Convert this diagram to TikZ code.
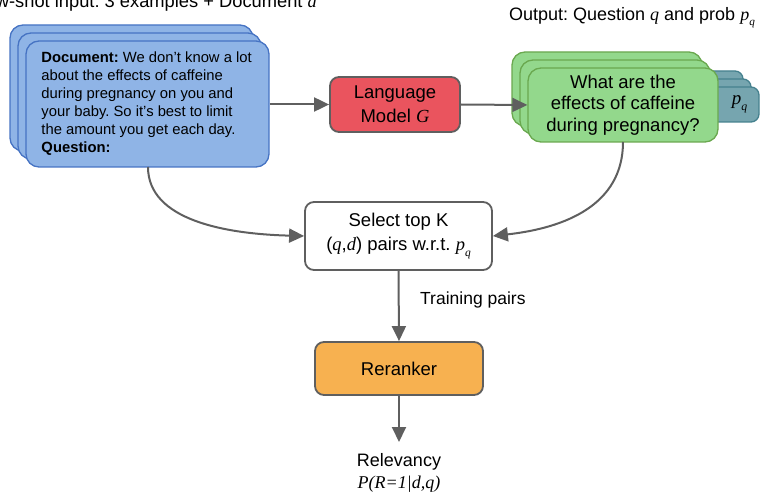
\documentclass[tikz,border=0pt]{standalone}
\usepackage{fontspec}
\setmainfont{Liberation Sans}
\newfontfamily\tms{Liberation Serif}
\usetikzlibrary{arrows.meta}
\frenchspacing
\newcommand{\mv}[1]{{\tms\itshape #1}}
\newcommand{\pq}{\mv{p}\raisebox{-0.55ex}{\scalebox{0.62}{\mv{q}}}}
\definecolor{bluefill}{RGB}{143,180,230}
\definecolor{blueline}{RGB}{70,115,195}
\definecolor{greenfill}{RGB}{147,216,140}
\definecolor{greenline}{RGB}{106,168,79}
\definecolor{tealfill}{RGB}{118,165,175}
\definecolor{tealline}{RGB}{69,129,142}
\definecolor{redfill}{RGB}{234,84,94}
\definecolor{orangefill}{RGB}{247,177,80}
\definecolor{edgegrey}{RGB}{95,95,95}
\tikzset{
  card/.style={draw, line width=1.3pt, rounded corners=13pt, inner sep=0pt},
  bluecard/.style={card, fill=bluefill, draw=blueline, minimum width=243pt, minimum height=126pt},
  greencard/.style={card, fill=greenfill, draw=greenline, minimum width=190pt, minimum height=74pt},
  tealcard/.style={card, fill=tealfill, draw=tealline, rounded corners=8pt, minimum width=53pt, minimum height=35pt},
  procbox/.style={draw=edgegrey, line width=1.8pt, rounded corners=9pt, inner sep=0pt, align=center, font=\fontsize{18.5}{24}\selectfont},
  flow/.style={draw=edgegrey, line width=2pt, -{Triangle[length=15pt,width=14pt]}},
  label/.style={inner sep=0pt, font=\fontsize{18}{22}\selectfont}
}
\begin{document}
\begin{tikzpicture}[x=1pt,y=-1pt]
\useasboundingbox (0,0) rectangle (761,497);

% input documents (stacked)
\node[label, anchor=base east, font=\fontsize{18.3}{22}\selectfont] (inlabel) at (317,7.5) {Few-shot input: 3 examples + Document \mv{d}};
\node[bluecard] (blueback) at (131.5,88) {};
\node[bluecard] (bluemid) at (139.5,96) {};
\node[bluecard, align=left, font=\fontsize{14.8}{18}\selectfont] (doc) at (147.5,104) {\parbox{212pt}{%
\textbf{Document:} We don't know a lot\\
about the effects of caffeine\\
during pregnancy on you and\\
your baby. So it's best to limit\\
the amount you get each day.\\
\textbf{Question:}}};

% language model
\node[procbox, fill=redfill, minimum width=130pt, minimum height=55pt] (lm) at (395,104.5) {Language\\Model \mv{G}};

% generated questions and their probabilities
\node[label] (outlabel) at (632,18) {Output: Question \mv{q} and prob \pq};
\node[tealcard] (pback) at (716.5,88.5) {};
\node[tealcard] (pmid) at (724.5,96.5) {};
\node[tealcard, font=\fontsize{19}{22}\selectfont] (prob) at (732.5,104.5) {\hspace*{14pt}\pq};
\node[greencard] (qback) at (607,89) {};
\node[greencard] (qmid) at (615,97) {};
\node[greencard, align=center, font=\fontsize{18.5}{21.5}\selectfont] (ques) at (623,105) {What are the\\effects of caffeine\\during pregnancy?};

% selection and reranker
\node[procbox, fill=white, minimum width=187pt, minimum height=68pt] (sel) at (398.5,236) {Select top K\\(\mv{q},\mv{d}) pairs w.r.t. \pq};
\node[procbox, fill=orangefill, minimum width=168pt, minimum height=53pt] (rr) at (399,368.5) {Reranker};
\node[label, align=center, font=\fontsize{18}{22}\selectfont] (rel) at (399,473) {Relevancy\\{\tms\itshape P(R=1|d,q)}};
\node[label, anchor=west, font=\fontsize{17.5}{21}\selectfont] (tp) at (420,300) {Training pairs};
\coordinate (relin) at (399,442);

% connectors
\draw[flow] (doc.east |- lm.west) -- (lm.west);
\draw[flow] (lm.east) -- (ques.west);
\draw[flow] (148,167) .. controls (148,220) and (225,234) .. (sel.west);
\draw[flow] (623,142) .. controls (623,205) and (565,228) .. (sel.east);
\draw[flow] (sel.south) -- (rr.north);
\draw[flow] (rr.south) -- (relin);
\end{tikzpicture}
\end{document}
